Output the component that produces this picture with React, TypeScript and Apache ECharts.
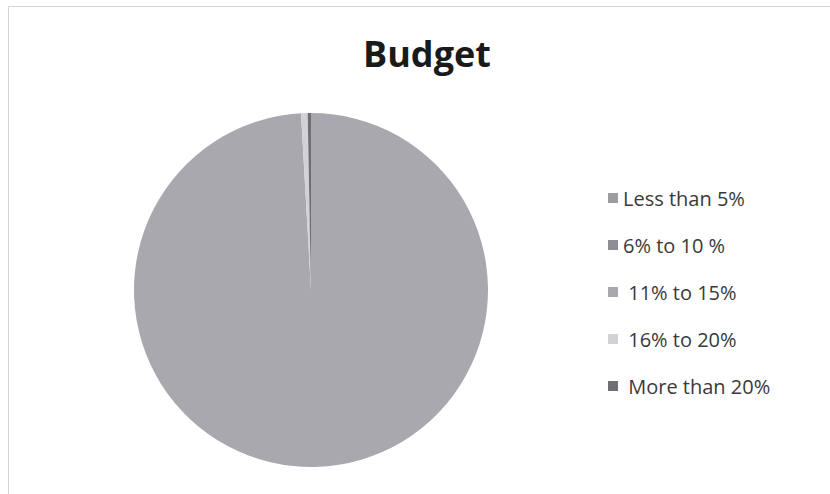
import React, { useEffect, useRef } from "react";
import * as echarts from "echarts";

const categories = ["Less than 5%", "6% to 10 %", " 11% to 15%", " 16% to 20%", " More than 20%"];
const values = [0, 0, 99.1, 0.6, 0.3];
const colors = ["#9c9ca2", "#8e8e94", "#a9a8af", "#d2d2d6", "#6e6e74"];
const chartTitle = "Budget";

export default function App() {
  const ref = useRef<HTMLDivElement>(null);
  useEffect(() => {
    if (!ref.current) return;
    const chart = echarts.init(ref.current, null, { renderer: "svg" });
    chart.setOption({
      animation: false,
      backgroundColor: "#ffffff",
      title: {
        text: chartTitle,
        left: 358,
        top: 30,
        textStyle: { fontFamily: "Open Sans", fontSize: 36, fontWeight: "bold", color: "#1a1a1a" },
      },
      legend: {
        orient: "vertical",
        left: 603,
        top: 183,
        itemWidth: 10,
        itemHeight: 10,
        itemGap: 27,
        icon: "rect",
        textStyle: { fontFamily: "Open Sans", fontSize: 20, color: "#3a3a3a", lineHeight: 20 },
        data: categories,
      },
      graphic: [
        {
          type: "rect",
          shape: { x: 8.5, y: 6.5, width: 830, height: 500 },
          style: { fill: "none", stroke: "#d4d4d4", lineWidth: 1 },
          silent: true,
        },
      ],
      series: [
        {
          type: "pie",
          center: [311, 290],
          radius: 177,
          startAngle: 90,
          clockwise: true,
          label: { show: false },
          labelLine: { show: false },
          itemStyle: { borderWidth: 0 },
          data: categories.map((name, i) => ({
            name,
            value: values[i],
            itemStyle: { color: colors[i] },
          })),
        },
      ],
    });
    return () => chart.dispose();
  }, []);
  return (
    <div
      ref={ref}
      style={{ position: "fixed", left: 0, top: 0, width: 830, height: 494 }}
    />
  );
}
